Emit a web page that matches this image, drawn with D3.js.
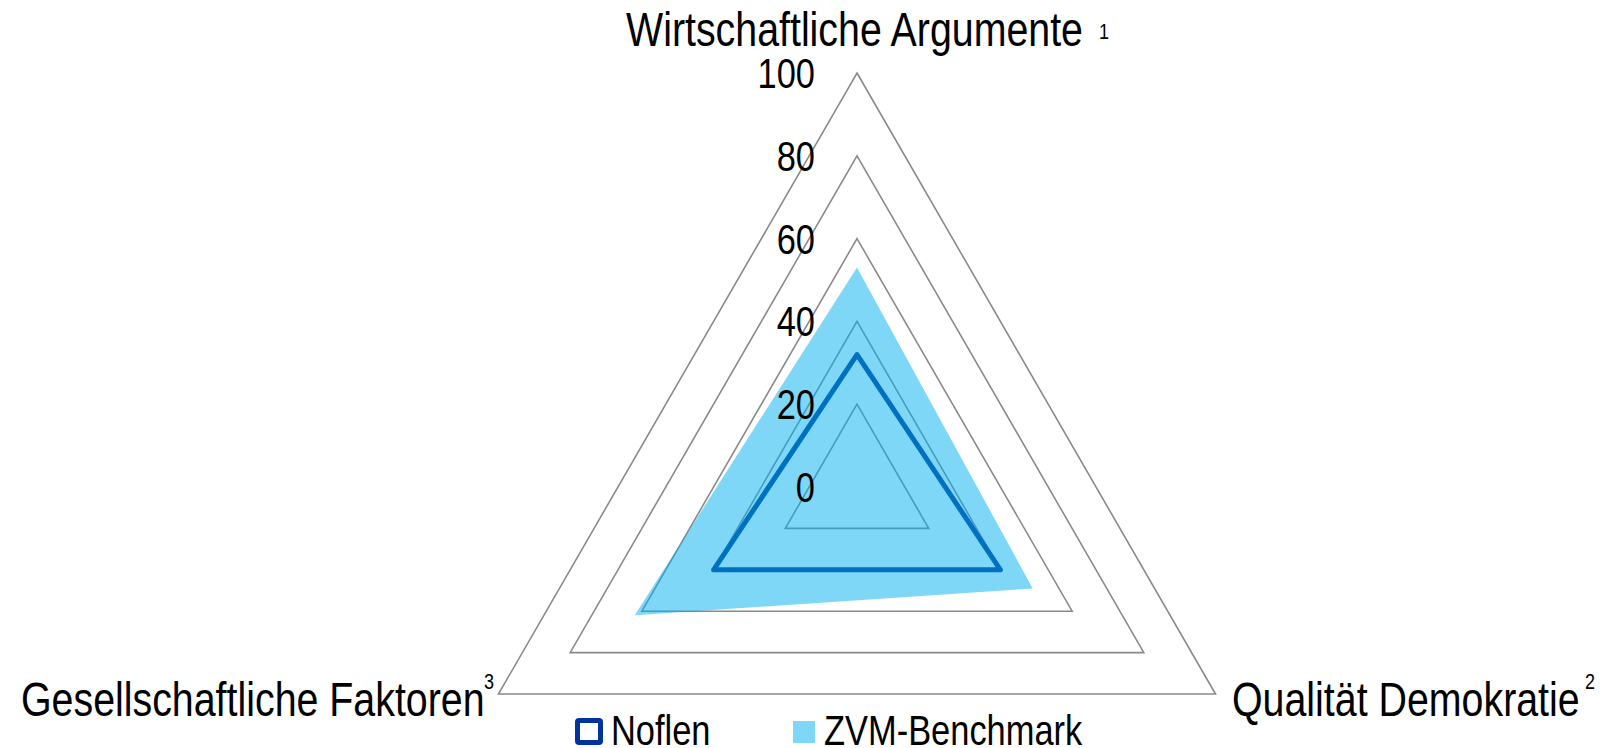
<!DOCTYPE html>
<html>
<head>
<meta charset="utf-8">
<script src="https://cdn.jsdelivr.net/npm/d3@7"></script>
<style>
  html, body { margin: 0; padding: 0; background: #fff; }
  svg { display: block; }
  text { font-family: "Liberation Sans", Arial, sans-serif; fill: #000; }
</style>
</head>
<body>
<svg id="chart" width="1614" height="748"></svg>
<script>
// ---- data ----
const categories = ["Wirtschaftliche Argumente", "Qualität Demokratie", "Gesellschaftliche Faktoren"];
const footnotes = ["1", "2", "3"];
const seriesNames = ["Noflen", "ZVM-Benchmark"];
const noflenValues = [32, 40, 40];
const benchmarkValues = [53, 49, 62];
const tickValues = [0, 20, 40, 60, 80, 100];

// ---- layout ----
const cx = 857, cy = 487, R = 414;
const NARROW = 0.82; // emulate Arial Narrow
const svg = d3.select("#chart");

const r = d3.scaleLinear().domain([0, 100]).range([0, R]);
const angle = d3.scalePoint().domain(categories).range([0, 240]); // degrees clockwise from top
function pt(cat, v) {
  const a = (angle(cat) - 90) * Math.PI / 180;
  return [cx + r(v) * Math.cos(a), cy + r(v) * Math.sin(a)];
}
function narrowText(sel, x, y, size, str, anchor) {
  return sel.append("text")
    .attr("transform", `translate(${x},${y}) scale(${NARROW},1)`)
    .attr("text-anchor", anchor || "start")
    .style("font-size", size + "px")
    .text(str);
}

const g = svg.append("g");

// grid rings
g.selectAll("polygon.ring")
  .data(tickValues.filter(t => t > 0))
  .join("polygon")
  .attr("class", "ring")
  .attr("points", t => categories.map(c => pt(c, t).join(",")).join(" "))
  .attr("fill", "none")
  .attr("stroke", "#8a8a8a")
  .attr("stroke-width", 1.6);

// benchmark area
g.append("polygon")
  .attr("points", categories.map((c, i) => pt(c, benchmarkValues[i]).join(",")).join(" "))
  .attr("fill", "#00B0F0")
  .attr("fill-opacity", 0.5)
  .attr("stroke", "none");

// Noflen line
g.append("polygon")
  .attr("points", categories.map((c, i) => pt(c, noflenValues[i]).join(",")).join(" "))
  .attr("fill", "none")
  .attr("stroke", "#0070C0")
  .attr("stroke-width", 5)
  .attr("stroke-linejoin", "round");

// value tick labels
tickValues.forEach(t => {
  narrowText(g, 815, cy - r(t) + 15, 42, String(t), "end");
});

// category labels
const catPos = [
  { x: 626, y: 46, sx: 1099, sy: 39 },
  { x: 1232, y: 716, sx: 1585, sy: 689 },
  { x: 21, y: 716, sx: 484, sy: 689 }
];
categories.forEach((c, i) => {
  const p = catPos[i];
  narrowText(g, p.x, p.y, 48, c);
  narrowText(g, p.sx, p.sy, 22, footnotes[i]);
});

// legend
const leg = svg.append("g");
leg.append("rect").attr("x", 577.5).attr("y", 720.5).attr("width", 23).attr("height", 22).attr("rx", 1.5)
  .attr("fill", "#fff").attr("stroke", "#0033A0").attr("stroke-width", 5);
narrowText(leg, 611, 745, 42, seriesNames[0]);
leg.append("rect").attr("x", 793).attr("y", 721).attr("width", 22).attr("height", 22)
  .attr("fill", "#00B0F0").attr("fill-opacity", 0.5);
narrowText(leg, 824, 745, 42, seriesNames[1]);
</script>
</body>
</html>
